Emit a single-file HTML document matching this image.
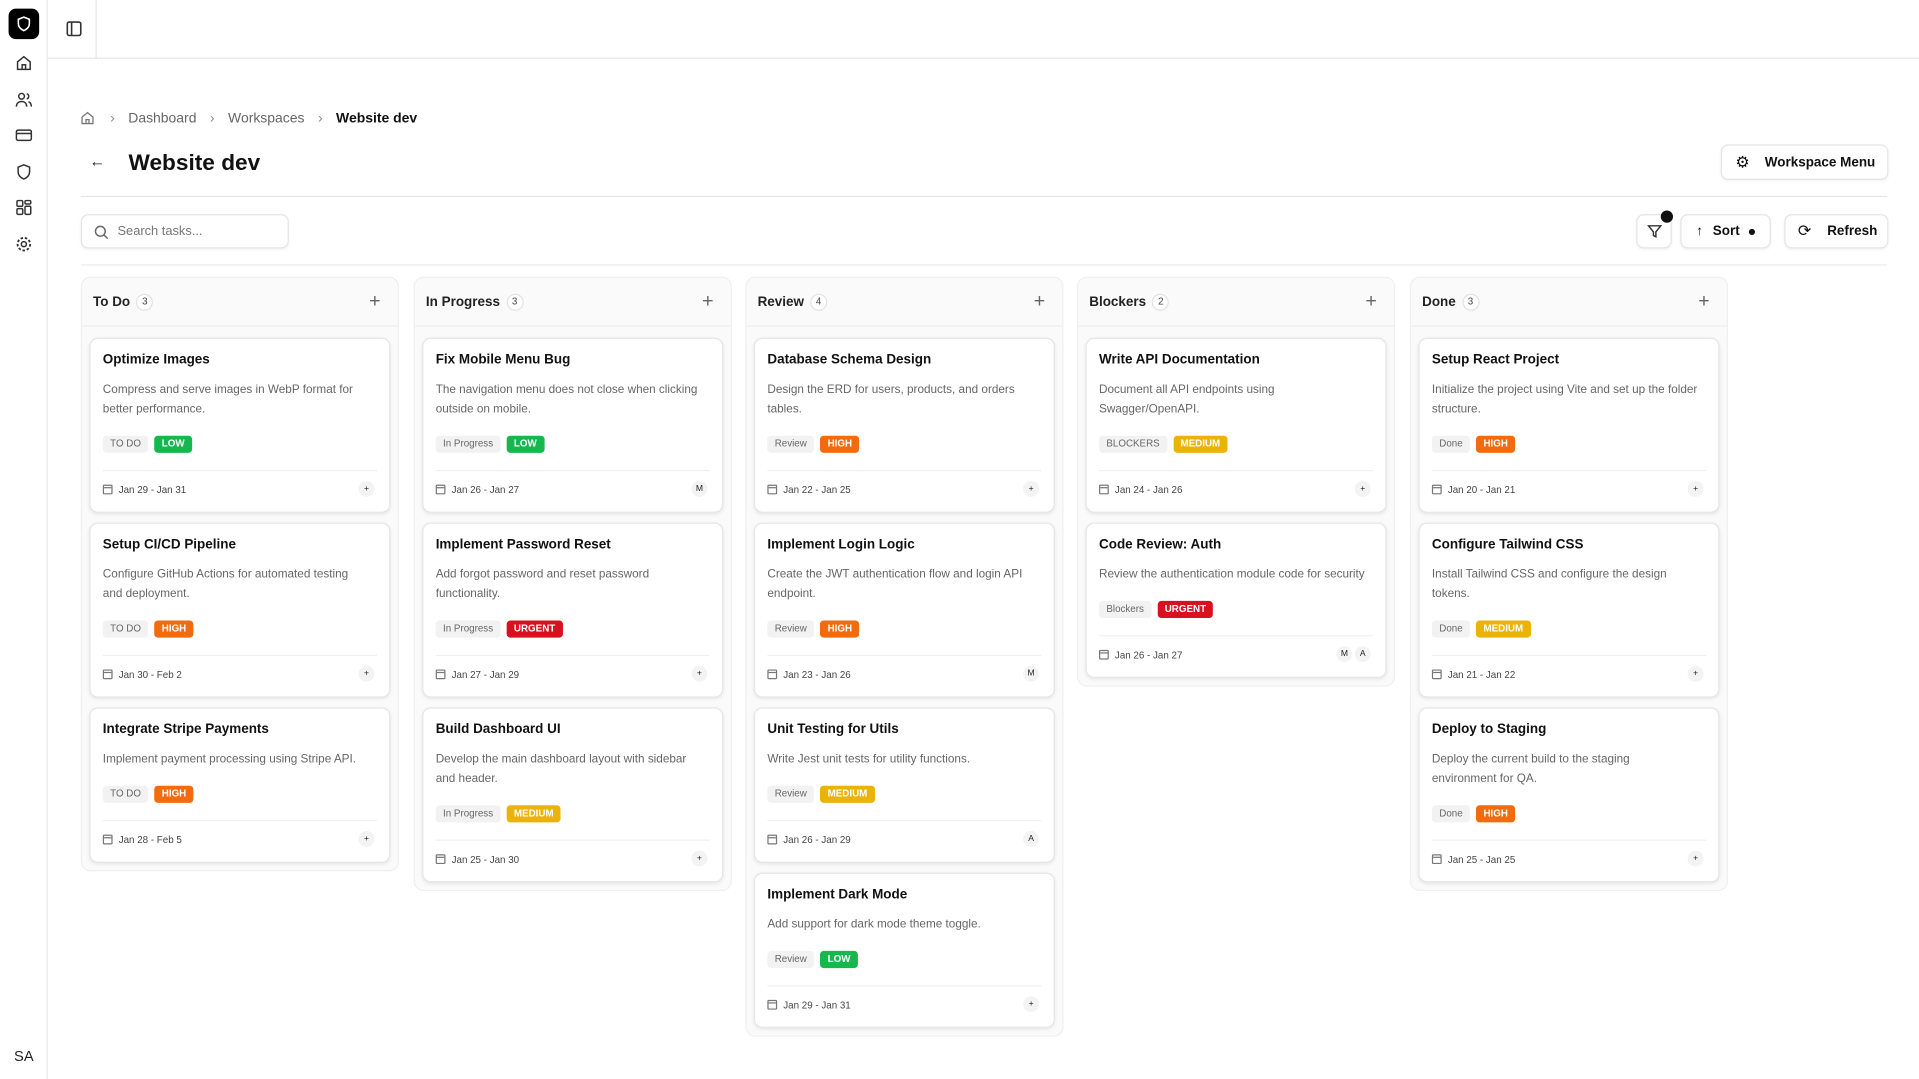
<!DOCTYPE html>
<html><head><meta charset="utf-8"><style>
*{box-sizing:border-box;margin:0;padding:0}
html,body{width:1919px;height:1079px;overflow:hidden;background:#fff;font-family:"Liberation Sans",sans-serif;color:#111}
#wrap{width:1568px;height:882px;transform:scale(1.22385);transform-origin:0 0;position:relative}
.abs{position:absolute}
#side{left:0;top:0;width:39px;height:882px;border-right:1px solid #e8e8e8;background:#fff}
.sicon{position:absolute;left:12px;width:15px;height:15px;color:#333}
#top{left:39px;top:0;right:0;height:48px;border-bottom:1px solid #e6e6e6}
.btn{position:absolute;border:1px solid #e5e5e5;border-radius:6px;background:#fff;font-size:11px;font-weight:bold;display:flex;align-items:center;box-shadow:0 1px 2px rgba(0,0,0,.05);white-space:nowrap}
.col{position:absolute;top:226px;width:260px;background:#fafafa;border:1px solid #efefef;border-radius:8px}
.colh{height:40px;border-bottom:1px solid #eee;display:flex;align-items:center;padding:0 9px;font-size:11px;font-weight:bold;color:#222;position:relative}
.cnt{display:inline-flex;width:14px;height:14px;border-radius:7px;border:1px solid #e3e3e3;background:#fff;font-size:8px;font-weight:normal;align-items:center;justify-content:center;margin-left:5px;color:#444}
.plus{position:absolute;right:14px;top:12px;font-size:16px;font-weight:normal;color:#666;line-height:16px}
.cards{padding:9px 6px 6px 6px}
.card{background:#fff;border:1px solid #e6e6e6;border-radius:7px;box-shadow:0 1px 3px rgba(0,0,0,.08);padding:9px 10px 11px 10px;margin-bottom:8px}
.card:last-child{margin-bottom:0}
.t{font-size:11px;font-weight:bold;line-height:16px;color:#111}
.d{font-size:9.6px;line-height:16px;color:#666;margin-top:9px;white-space:nowrap}
.tags{margin-top:13px;display:flex;gap:5px;height:14px}
.tag{font-size:8px;line-height:14px;padding:0 6px;border-radius:3px;background:#f2f2f2;color:#666}
.p{font-weight:bold;color:#fff}
.low{background:#16b84e}.high{background:#f26b0f}.urgent{background:#d9101d}.medium{background:#eab308}
.f{border-top:1px solid #f0f0f0;margin-top:14px;padding-top:8px;display:flex;align-items:center;font-size:8px;color:#444;height:23px;position:relative}
.cal{width:8px;height:8px;border:1px solid #777;border-radius:1px;margin-right:5px;position:relative}
.cal:before{content:"";position:absolute;left:0;right:0;top:1px;border-top:1px solid #777}
.av{position:absolute;right:2px;top:8px;display:flex;gap:2px}
.av span{width:13px;height:13px;border-radius:7px;background:#f3f3f3;font-size:7px;display:flex;align-items:center;justify-content:center;color:#222}
</style></head><body><div id="wrap">
<div id="side" class="abs">
<div class="abs" style="left:7px;top:7px;width:25px;height:25px;background:#000;border-radius:6px"><svg width="25" height="25" viewBox="0 0 25 25"><path d="M12.5 7l4.5 1.8v3.5c0 2.8-2 4.6-4.5 5.7-2.5-1.1-4.5-2.9-4.5-5.7V8.8z" fill="none" stroke="#fff" stroke-width="1.3"/></svg></div>
<svg class="sicon" style="top:44px" viewBox="0 0 16 16"><path d="M2.5 7L8 2.5 13.5 7v6.5h-11z M6.5 13.5v-4h3v4" fill="none" stroke="#333" stroke-width="1.3"/></svg>
<svg class="sicon" style="top:74px" viewBox="0 0 16 16"><circle cx="6" cy="5" r="2.5" fill="none" stroke="#333" stroke-width="1.3"/><path d="M1.5 14c0-3 2-4.5 4.5-4.5s4.5 1.5 4.5 4.5M10.5 2.7a2.4 2.4 0 010 4.6M12 9.7c1.5.5 2.5 2 2.5 4.3" fill="none" stroke="#333" stroke-width="1.3"/></svg>
<svg class="sicon" style="top:103px" viewBox="0 0 16 16"><rect x="1.5" y="3.5" width="13" height="9" rx="1.5" fill="none" stroke="#333" stroke-width="1.3"/><path d="M1.5 6.5h13" stroke="#333" stroke-width="1.3"/></svg>
<svg class="sicon" style="top:133px" viewBox="0 0 16 16"><path d="M8 1.8l5 2v4c0 3.2-2.2 5.2-5 6.4-2.8-1.2-5-3.2-5-6.4v-4z" fill="none" stroke="#333" stroke-width="1.3"/></svg>
<svg class="sicon" style="top:162px" viewBox="0 0 16 16"><rect x="2" y="2" width="5" height="5" rx="1" fill="none" stroke="#333" stroke-width="1.3"/><rect x="9" y="2" width="5" height="3" rx="1" fill="none" stroke="#333" stroke-width="1.3"/><rect x="2" y="9" width="5" height="5" rx="1" fill="none" stroke="#333" stroke-width="1.3"/><rect x="9" y="7" width="5" height="7" rx="1" fill="none" stroke="#333" stroke-width="1.3"/></svg>
<svg class="sicon" style="top:192px" viewBox="0 0 16 16"><circle cx="8" cy="8" r="2.2" fill="none" stroke="#333" stroke-width="1.3"/><circle cx="8" cy="8" r="5.5" fill="none" stroke="#333" stroke-width="1.6" stroke-dasharray="2.2 1.6"/></svg>
<div class="abs" style="left:6px;top:852px;width:27px;height:22px;font-size:12px;color:#222;display:flex;align-items:center;justify-content:center">SA</div>
</div>
<div id="top" class="abs">
<div class="abs" style="left:39px;top:0;width:1px;height:48px;background:#e6e6e6"></div>
<svg class="abs" style="left:15px;top:17px" width="13" height="13" viewBox="0 0 13 13"><rect x="1" y="1" width="11" height="11" rx="1.5" fill="none" stroke="#333" stroke-width="1.3"/><path d="M4.5 1v11" stroke="#333" stroke-width="1.3"/></svg>
</div>
<div class="abs" style="left:65px;top:90px;font-size:11.4px;color:#666;display:flex;align-items:center;white-space:nowrap">
<svg width="13" height="13" viewBox="0 0 16 16"><path d="M2.5 7L8 2.5 13.5 7v6.5h-11z M6.5 13.5v-4h3v4" fill="none" stroke="#777" stroke-width="1.3"/></svg>
<span style="margin:0 11px 0 12px;color:#888">›</span><span>Dashboard</span>
<span style="margin:0 11px;color:#888">›</span><span>Workspaces</span>
<span style="margin:0 11px;color:#888">›</span><span style="color:#111;font-weight:bold">Website dev</span></div>
<div class="abs" style="left:73px;top:124px;font-size:13px;color:#222">←</div>
<div class="abs" style="left:105px;top:122px;font-size:18.5px;font-weight:bold;color:#111">Website dev</div>
<div class="btn" style="left:1406px;top:118px;width:137px;height:29px;padding-left:35px"><span style="position:absolute;left:11px;top:6px;font-size:13px;font-weight:normal">⚙</span>Workspace Menu</div>
<div class="abs" style="left:66px;top:160px;width:1476px;height:1px;background:#e6e6e6"></div>
<div class="btn" style="left:66px;top:175px;width:170px;height:28px;padding-left:29px;font-weight:normal;color:#777;font-size:10.5px"><svg style="position:absolute;left:10px;top:8px" width="12" height="12" viewBox="0 0 12 12"><circle cx="5" cy="5" r="4" fill="none" stroke="#666" stroke-width="1.2"/><path d="M8 8l3 3" stroke="#666" stroke-width="1.2"/></svg>Search tasks...</div>
<div class="btn" style="left:1337px;top:175px;width:29px;height:28px;justify-content:center"><svg width="12" height="12" viewBox="0 0 12 12"><path d="M1 1.5h10L7 6.5v4l-2-1v-3z" fill="none" stroke="#333" stroke-width="1.2"/></svg><span style="position:absolute;right:-2px;top:-4px;width:10px;height:10px;border-radius:5px;background:#111"></span></div>
<div class="btn" style="left:1373px;top:175px;width:74px;height:28px;padding-left:12px"><span style="font-weight:normal;margin-right:8px">↑</span>Sort<span style="width:5px;height:5px;border-radius:3px;background:#111;margin-left:7px"></span></div>
<div class="btn" style="left:1458px;top:175px;width:85px;height:28px;padding-left:34px"><span style="position:absolute;left:10px;top:5px;font-size:13px;font-weight:normal">⟳</span>Refresh</div>
<div class="abs" style="left:66px;top:216px;width:1476px;height:1px;background:#ececec"></div>
<div id="board"></div>
</div>
<script>
const columns=[
{name:"To Do",x:66,cards:[
["Optimize Images",["Compress and serve images in WebP format for","better performance."],"TO DO","LOW","Jan 29 - Jan 31",["+"]],
["Setup CI/CD Pipeline",["Configure GitHub Actions for automated testing","and deployment."],"TO DO","HIGH","Jan 30 - Feb 2",["+"]],
["Integrate Stripe Payments",["Implement payment processing using Stripe API."],"TO DO","HIGH","Jan 28 - Feb 5",["+"]]]},
{name:"In Progress",x:338,cards:[
["Fix Mobile Menu Bug",["The navigation menu does not close when clicking","outside on mobile."],"In Progress","LOW","Jan 26 - Jan 27",["M"]],
["Implement Password Reset",["Add forgot password and reset password","functionality."],"In Progress","URGENT","Jan 27 - Jan 29",["+"]],
["Build Dashboard UI",["Develop the main dashboard layout with sidebar","and header."],"In Progress","MEDIUM","Jan 25 - Jan 30",["+"]]]},
{name:"Review",x:609,cards:[
["Database Schema Design",["Design the ERD for users, products, and orders","tables."],"Review","HIGH","Jan 22 - Jan 25",["+"]],
["Implement Login Logic",["Create the JWT authentication flow and login API","endpoint."],"Review","HIGH","Jan 23 - Jan 26",["M"]],
["Unit Testing for Utils",["Write Jest unit tests for utility functions."],"Review","MEDIUM","Jan 26 - Jan 29",["A"]],
["Implement Dark Mode",["Add support for dark mode theme toggle."],"Review","LOW","Jan 29 - Jan 31",["+"]]]},
{name:"Blockers",x:880,cards:[
["Write API Documentation",["Document all API endpoints using","Swagger/OpenAPI."],"BLOCKERS","MEDIUM","Jan 24 - Jan 26",["+"]],
["Code Review: Auth",["Review the authentication module code for security"],"Blockers","URGENT","Jan 26 - Jan 27",["M","A"]]]},
{name:"Done",x:1152,cards:[
["Setup React Project",["Initialize the project using Vite and set up the folder","structure."],"Done","HIGH","Jan 20 - Jan 21",["+"]],
["Configure Tailwind CSS",["Install Tailwind CSS and configure the design","tokens."],"Done","MEDIUM","Jan 21 - Jan 22",["+"]],
["Deploy to Staging",["Deploy the current build to the staging","environment for QA."],"Done","HIGH","Jan 25 - Jan 25",["+"]]]}];
const board=document.getElementById('board');
const slug=s=>s.toLowerCase().replace(/[^a-z0-9]+/g,'-').replace(/-$/,'');
columns.forEach(c=>{
const col=document.createElement('div');col.className='col';col.style.left=c.x+'px';


col.innerHTML=`<div class="colh">${c.name}<span class="cnt">${c.cards.length}</span><span class="plus">+</span></div>`;
const plus=col.querySelector('.plus');


const wrap=document.createElement('div');wrap.className='cards';
c.cards.forEach(k=>{
const card=document.createElement('div');card.className='card';


card.innerHTML=`<div class="t">${k[0]}</div><div class="d">${k[1].join('<br>')}</div><div class="tags"><span class="tag">${k[2]}</span><span class="tag p ${k[3].toLowerCase()}">${k[3]}</span></div><div class="f"><span class="cal"></span>${k[4]}<div class="av">${k[5].map(a=>'<span>'+a+'</span>').join('')}</div></div>`;
wrap.appendChild(card);});
col.appendChild(wrap);board.appendChild(col);});
</script>
</body></html>
